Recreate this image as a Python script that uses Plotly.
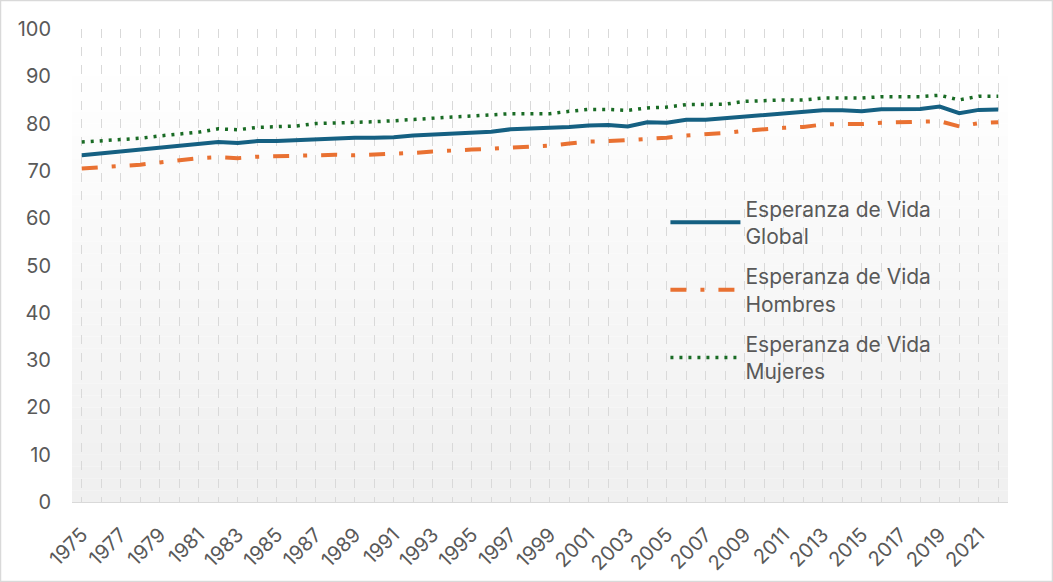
import plotly.graph_objects as go

years = list(range(1975, 2023))

global_le = [73.3, 73.7, 74.1, 74.4, 74.8, 75.2, 75.5, 76.1, 75.9, 76.3, 76.3, 76.5,
             76.7, 76.8, 77.0, 77.0, 77.1, 77.5, 77.7, 77.9, 78.1, 78.3, 78.8, 78.9,
             79.0, 79.3, 79.6, 79.7, 79.4, 80.3, 80.2, 80.8, 80.8, 81.1, 81.5, 81.9,
             82.2, 82.3, 82.8, 82.8, 82.6, 83.05, 83.05, 83.1, 83.6, 82.2, 82.9, 83.0]
men_le = [70.5, 70.7, 70.9, 71.3, 71.8, 72.3, 72.7, 72.9, 72.7, 73.0, 73.1, 73.3,
          73.4, 73.4, 73.3, 73.4, 73.5, 73.8, 74.1, 74.4, 74.5, 74.7, 74.9, 75.2,
          75.35, 75.8, 76.2, 76.3, 76.5, 76.8, 77.0, 77.5, 77.7, 78.0, 78.5, 78.9,
          79.1, 79.3, 79.8, 79.9, 79.9, 80.2, 80.3, 80.3, 80.5, 79.4, 80.1, 80.3]
women_le = [76.1, 76.4, 76.7, 76.9, 77.4, 77.8, 78.2, 78.9, 78.7, 79.2, 79.4, 79.5,
            80.0, 80.1, 80.2, 80.4, 80.6, 80.9, 81.1, 81.4, 81.6, 81.8, 82.1, 82.1,
            82.1, 82.6, 83.0, 83.0, 82.8, 83.3, 83.5, 84.0, 84.0, 84.1, 84.7, 84.9,
            85.0, 85.0, 85.4, 85.4, 85.4, 85.7, 85.7, 85.7, 86.0, 85.0, 85.8, 85.8]

tick_years = list(range(1975, 2023, 2))

txt = "#595959"
font_family = "Inter, Roboto, 'Open Sans', sans-serif"

fig = go.Figure()

fig.add_trace(go.Scatter(x=years, y=global_le, mode="lines", legendgroup="g",
                         name="Esperanza de Vida<br>Global",
                         line=dict(color="#156082", width=4)))
fig.add_trace(go.Scatter(x=years, y=men_le, mode="lines", legendgroup="h",
                         name="Esperanza de Vida<br>Hombres",
                         line=dict(color="#E97132", width=4, dash="16px,14px,4px,14px")))
fig.add_trace(go.Scatter(x=years, y=women_le, mode="lines", legendgroup="m",
                         name="Esperanza de Vida<br>Mujeres",
                         line=dict(color="#196B24", width=3.5, dash="3px,6px")))

# soft vertical gradient in the plot area (white at top, light grey at bottom)
shapes = []
n = 40
for k in range(n):
    y0 = 100 * k / n
    y1 = 100 * (k + 1) / n
    t = min(1.0, (y0 / 88.0))
    c = int(240 + (255 - 240) * t)
    shapes.append(dict(type="rect", xref="paper", yref="y", x0=0, x1=1, y0=y0, y1=y1,
                       fillcolor=f"rgb({c},{c},{c})", line=dict(width=0), layer="below"))
# outer chart border
shapes.append(dict(type="rect", xref="paper", yref="paper",
                   x0=-0.0764, x1=1.0475, y0=-0.168, y1=1.0602,
                   line=dict(color="#d9d9d9", width=1.5), layer="above"))

fig.update_layout(
    width=1053, height=582,
    margin=dict(l=72, r=45, t=29, b=80),
    paper_bgcolor="white",
    plot_bgcolor="white",
    font=dict(family=font_family, color=txt, size=18),
    shapes=shapes,
    showlegend=True,
    legend=dict(x=0.634, y=0.663, xanchor="left", yanchor="top",
                bgcolor="rgba(0,0,0,0)", itemwidth=70,
                font=dict(size=21, color=txt), tracegroupgap=10),
    xaxis=dict(
        range=[1974.5, 2022.5], automargin=False,
        tickmode="array", tickvals=tick_years, ticktext=[str(v) for v in tick_years],
        tickangle=-45, tickfont=dict(size=20, color=txt), ticklabelstandoff=12,
        showgrid=True, gridcolor="#d9d9d9", griddash="dash", gridwidth=1.3,
        minor=dict(dtick=1, tick0=1975, showgrid=True, gridcolor="#d9d9d9",
                   griddash="dash", gridwidth=1.3),
        showline=True, linecolor="#d9d9d9", linewidth=1.3,
        ticks="", zeroline=False, fixedrange=True,
    ),
    yaxis=dict(
        range=[0, 100], dtick=10, tick0=0, automargin=False,
        tickfont=dict(size=20, color=txt),
        showgrid=False, zeroline=False, showline=False,
        ticks="", ticklabelstandoff=20, fixedrange=True,
    ),
)

fig.write_html("out.html", config={"displayModeBar": False},
               post_script="document.body.style.margin='0';")
